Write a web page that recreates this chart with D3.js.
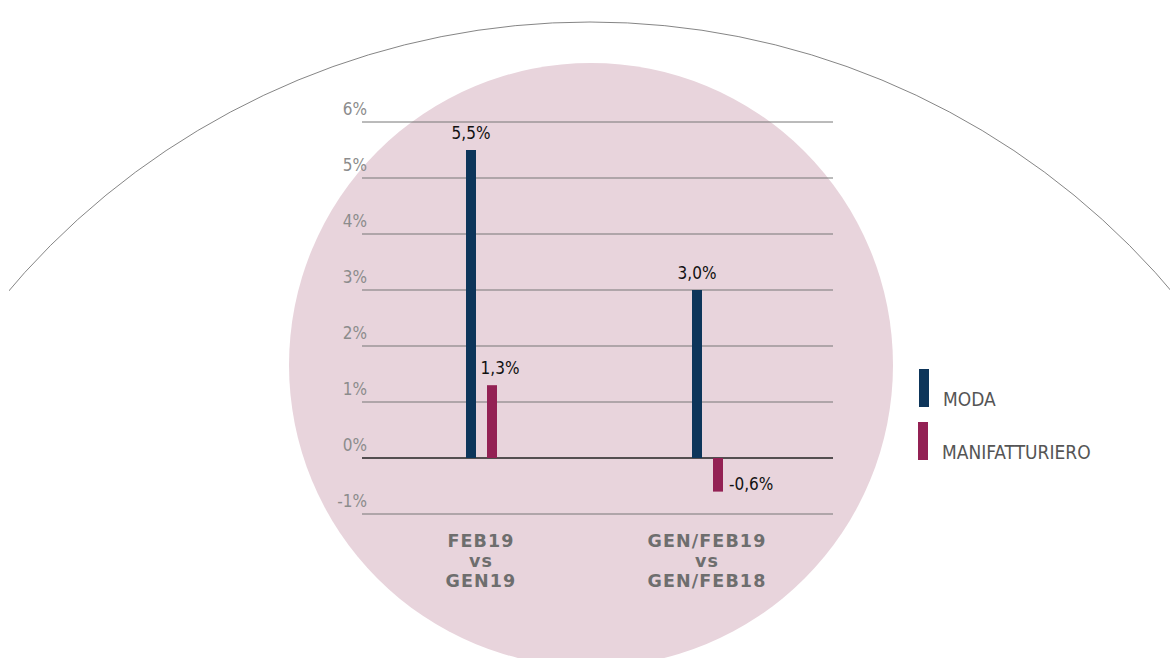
<!DOCTYPE html>
<html>
<head>
<meta charset="utf-8">
<script src="https://cdn.jsdelivr.net/npm/d3@7"></script>
<style>
  body { margin: 0; background: white; }
</style>
</head>
<body>
<div id="chart"></div>
<script>
// Data
const categories = [["FEB19", "vs", "GEN19"], ["GEN/FEB19", "vs", "GEN/FEB18"]]
const series = ["MODA", "MANIFATTURIERO"]
const moda = [5.5, 3.0]
const manifatturiero = [1.3, -0.6]
const yTicks = [-1, 0, 1, 2, 3, 4, 5, 6]
const colors = ["#0d355a", "#932154"]

const width = 1170, height = 658

let svg = d3.select('#chart')
  .append('svg')
  .attr('width', width)
  .attr('height', height)
  .style('background-color', 'white')

// clip for the big arc (it stops short of the left edge)
svg.append("clipPath")
  .attr("id", "arc-clip")
  .append("rect")
  .attr("x", 9)
  .attr("y", 0)
  .attr("width", width)
  .attr("height", height)

// big thin arc across the top
svg.append("circle")
  .attr("cx", 590)
  .attr("cy", 785)
  .attr("r", 763)
  .attr("clip-path", "url(#arc-clip)")
  .style("fill", "none")
  .style("stroke", "#666")
  .style("stroke-width", 0.8)

// pink disc behind the chart
svg.append("circle")
  .attr("cx", 591)
  .attr("cy", 365)
  .attr("r", 302)
  .style("fill", "#e8d4dc")

// scales
const x = d3.scaleBand()
  .domain(d3.range(categories.length))
  .range([368, 820])
  .paddingInner(0)
const y = d3.scaleLinear()
  .domain([-1, 6])
  .range([514, 122])

// gridlines
svg.selectAll(".grid")
  .data(yTicks)
  .join("line")
  .attr("x1", 362)
  .attr("x2", 833)
  .attr("y1", d => y(d))
  .attr("y2", d => y(d))
  .style("stroke", d => d === 0 ? "#222" : "#777")
  .style("stroke-width", d => d === 0 ? 1.3 : 1)

// tick labels
svg.selectAll(".tick-label")
  .data(yTicks)
  .join("text")
  .attr("x", 367)
  .attr("y", d => y(d) - 7)
  .text(d => d + "%")
  .style("font-family", "'DejaVu Sans Condensed', 'Liberation Sans Narrow', sans-serif")
  .style("font-weight", 300)
  .style("font-size", "17px")
  .style("fill", "#8c8c8c")
  .style("text-anchor", "end")

// bars
const barW = 10
const offsets = [-15, 6]
const seriesVals = [moda, manifatturiero]

seriesVals.forEach((vals, s) => {
  svg.selectAll(".bar" + s)
    .data(vals)
    .join("rect")
    .attr("x", (d, i) => x(i) + x.bandwidth() / 2 + offsets[s])
    .attr("y", d => y(Math.max(0, d)))
    .attr("width", barW)
    .attr("height", d => Math.abs(y(d) - y(0)))
    .style("fill", colors[s])
})

// value labels
seriesVals.forEach((vals, s) => {
  svg.selectAll(".val" + s)
    .data(vals)
    .join("text")
    .attr("x", (d, i) => {
      const cx = x(i) + x.bandwidth() / 2 + offsets[s]
      if (d < 0) return cx + barW + 6
      return s === 0 ? cx + barW / 2 : cx + barW / 2 + 8
    })
    .attr("y", d => d < 0 ? y(d) - 2 : y(d) - 11)
    .text(d => (d < 0 ? "-" : "") + Math.abs(d).toFixed(1).replace(".", ",") + "%")
    .style("font-family", "'DejaVu Sans Condensed', 'Liberation Sans Narrow', sans-serif")
    .style("font-size", "17px")
    .style("fill", "#111")
    .style("text-anchor", d => d < 0 ? "start" : "middle")
})

// category labels, three short lines each
categories.forEach((lines, i) => {
  const t = svg.append("text")
    .attr("x", x(i) + x.bandwidth() / 2)
    .attr("y", 547)
    .style("font-family", "'DejaVu Sans', sans-serif")
    .style("font-weight", "bold")
    .style("font-size", "17.5px")
    .style("letter-spacing", "1.1px")
    .style("fill", "#6e6e6e")
    .style("text-anchor", "middle")
  lines.forEach((l, j) => {
    t.append("tspan")
      .attr("x", x(i) + x.bandwidth() / 2)
      .attr("dy", j === 0 ? 0 : 20)
      .text(l)
  })
})

// legend
const legend_x = 919
const legend_y = 369
const y_incr = 53

series.forEach((name, s) => {
  svg.append("rect")
    .attr("x", legend_x - s)
    .attr("y", legend_y + s * y_incr)
    .attr("width", 10)
    .attr("height", 38)
    .style("fill", colors[s])

  svg.append("text")
    .attr("x", legend_x + 24 - s)
    .attr("y", legend_y + s * y_incr + 37)
    .text(name)
    .style("font-family", "'DejaVu Sans Condensed', 'Liberation Sans Narrow', sans-serif")
    .style("font-size", "19px")
    .style("fill", "#555")
})
</script>
</body>
</html>
